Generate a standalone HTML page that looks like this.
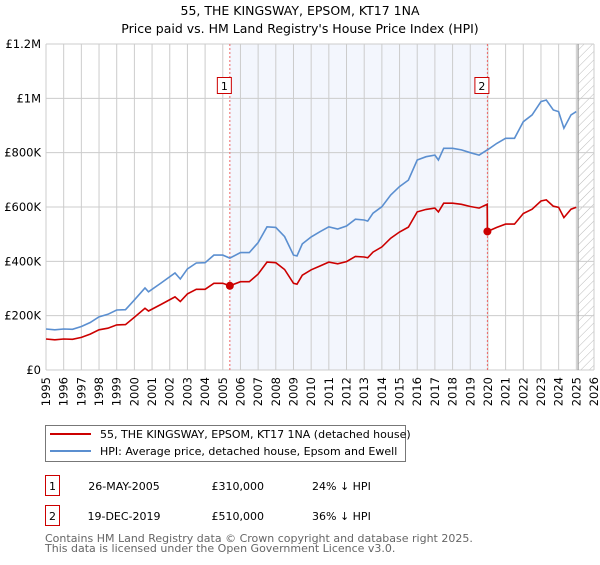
<!DOCTYPE html>
<html><head><meta charset="utf-8"><style>
body{margin:0;background:#fff;}
svg text{font-family:"DejaVu Sans","Liberation Sans",sans-serif;}
</style></head><body>
<svg width="600" height="560" viewBox="0 0 600 560" xmlns="http://www.w3.org/2000/svg">
<defs><pattern id="hatch" width="6" height="6" patternUnits="userSpaceOnUse" patternTransform="rotate(45)"><line x1="0" y1="0" x2="0" y2="6" stroke="#bbb" stroke-width="1"/></pattern></defs>
<text x="300" y="15" text-anchor="middle" font-size="12.5">55, THE KINGSWAY, EPSOM, KT17 1NA</text>
<text x="300" y="33" text-anchor="middle" font-size="12.5">Price paid vs. HM Land Registry's House Price Index (HPI)</text>
<g id="plot"></g>
<g>
<rect x="45.5" y="425.5" width="360" height="36" fill="#fff" stroke="#777"/>
<line x1="50" y1="434" x2="91" y2="434" stroke="#cc0000" stroke-width="2"/>
<text x="100" y="438" font-size="11">55, THE KINGSWAY, EPSOM, KT17 1NA (detached house)</text>
<line x1="50" y1="451" x2="91" y2="451" stroke="#5b8fd0" stroke-width="2"/>
<text x="100" y="455" font-size="11">HPI: Average price, detached house, Epsom and Ewell</text>
</g>
<g font-size="11">
<rect x="45.5" y="475.5" width="14" height="20" fill="#fff" stroke="#cc0000"/>
<text x="52.5" y="490" text-anchor="middle">1</text>
<text x="124" y="490" text-anchor="middle">26-MAY-2005</text>
<text x="264" y="490" text-anchor="end">£310,000</text>
<text x="312" y="490">24% ↓ HPI</text>
<rect x="45.5" y="505.5" width="14" height="20" fill="#fff" stroke="#cc0000"/>
<text x="52.5" y="520" text-anchor="middle">2</text>
<text x="124" y="520" text-anchor="middle">19-DEC-2019</text>
<text x="264" y="520" text-anchor="end">£510,000</text>
<text x="312" y="520">36% ↓ HPI</text>
</g>
<text x="45" y="542" font-size="11" fill="#666">Contains HM Land Registry data © Crown copyright and database right 2025.</text>
<text x="45" y="552" font-size="11" fill="#666">This data is licensed under the Open Government Licence v3.0.</text>
</svg>
<script>
const years=[1995,1995.5,1996,1996.5,1997,1997.5,1998,1998.5,1999,1999.5,2000,2000.6,2000.8,2001.5,2002.3,2002.6,2003,2003.5,2004,2004.5,2005,2005.4,2006,2006.5,2007,2007.5,2008,2008.5,2009,2009.2,2009.5,2010,2010.5,2011,2011.5,2012,2012.5,2013,2013.2,2013.5,2014,2014.5,2015,2015.5,2016,2016.5,2017,2017.2,2017.5,2018,2018.5,2019,2019.5,2019.96,2019.97,2020.5,2021,2021.5,2022,2022.5,2023,2023.3,2023.7,2024,2024.3,2024.7,2025];
const hpiValues=[151,148,151,150,160,175,196,205,221,222,258,302,288,320,357,335,372,394,395,423,423,412,432,432,469,527,525,491,423,420,464,490,509,527,519,530,555,552,548,577,601,644,675,699,773,785,791,773,816,816,810,800,791,810,810,834,853,853,914,939,988,994,957,951,890,939,951];
const propertyValues=[114,111,114,113,120,132,148,154,166,167,194,227,217,241,269,252,280,297,297,319,319,310,325,325,353,397,395,370,319,316,349,369,383,397,391,399,418,416,413,434,453,485,508,526,582,591,596,582,614,614,610,602,596,610,510,525,537,537,576,592,622,626,603,599,561,592,599];
const yTicks=[0,200,400,600,800,1000,1200];
const yTickLabels=['£0','£200K','£400K','£600K','£800K','£1M','£1.2M'];
const xTicks=[1995,1996,1997,1998,1999,2000,2001,2002,2003,2004,2005,2006,2007,2008,2009,2010,2011,2012,2013,2014,2015,2016,2017,2018,2019,2020,2021,2022,2023,2024,2025,2026];
const sales=[{label:'1',year:2005.4,value:310},{label:'2',year:2019.97,value:510}];
const ns='http://www.w3.org/2000/svg';
const X0=46,X1=594,Y0=370,Y1=44;
const xs=t=>X0+(t-1995)/(2026-1995)*(X1-X0);
const ys=v=>Y0-v/1200*(Y0-Y1);
const g=document.getElementById('plot');
function mk(tag,attrs,parent){const e=document.createElementNS(ns,tag);for(const k in attrs)e.setAttribute(k,attrs[k]);(parent||g).appendChild(e);return e;}
let sh=mk('rect',{x:xs(sales[0].year),y:Y1,width:xs(sales[1].year)-xs(sales[0].year),height:Y0-Y1,fill:'#f3f6fd'});


let ht=mk('rect',{x:xs(2025.1),y:Y1,width:X1-xs(2025.1),height:Y0-Y1,fill:'url(#hatch)'});


xTicks.forEach(t=>{
  let l=mk('line',{x1:xs(t),x2:xs(t),y1:Y1,y2:Y0,stroke:'#cccccc','stroke-width':1});
  
  
  let tx=mk('text',{x:0,y:0,'text-anchor':'end','font-size':'11.5',transform:'translate('+(xs(t)+4)+','+(Y0+7)+') rotate(-90)'});
  tx.textContent=t;
  
  
});
yTicks.forEach((v,i)=>{
  let l=mk('line',{x1:X0,x2:X1,y1:ys(v),y2:ys(v),stroke:'#cccccc','stroke-width':1});
  
  
  let tx=mk('text',{x:X0-5,y:ys(v)+4,'text-anchor':'end','font-size':'11.5'});
  tx.textContent=yTickLabels[i];
  
  
});
let ed=mk('line',{x1:xs(2025.1),x2:xs(2025.1),y1:Y1,y2:Y0,stroke:'#999','stroke-width':1.2});


sales.forEach(s=>{
  let l=mk('line',{x1:xs(s.year),x2:xs(s.year),y1:Y1,y2:Y0,stroke:'#ee6666','stroke-width':1,'stroke-dasharray':'2,2'});
  
  
});
function path(vals){return vals.map((v,i)=>(i?'L':'M')+xs(years[i]).toFixed(1)+','+ys(v).toFixed(1)).join('');}
let hp=mk('path',{d:path(hpiValues),fill:'none',stroke:'#5b8fd0','stroke-width':1.6});


let pp=mk('path',{d:path(propertyValues),fill:'none',stroke:'#cc0000','stroke-width':1.6});


sales.forEach(s=>{
  let c=mk('circle',{cx:xs(s.year),cy:ys(s.value),r:4,fill:'#cc0000'});
  
  
  let b=mk('rect',{x:xs(s.year)-12.5,y:77.5,width:14,height:16,fill:'#fff',stroke:'#cc0000'});
  
  
  let t=mk('text',{x:xs(s.year)-5.5,y:90,'text-anchor':'middle','font-size':'11'});
  t.textContent=s.label;
  
  
});
</script>
</body></html>
